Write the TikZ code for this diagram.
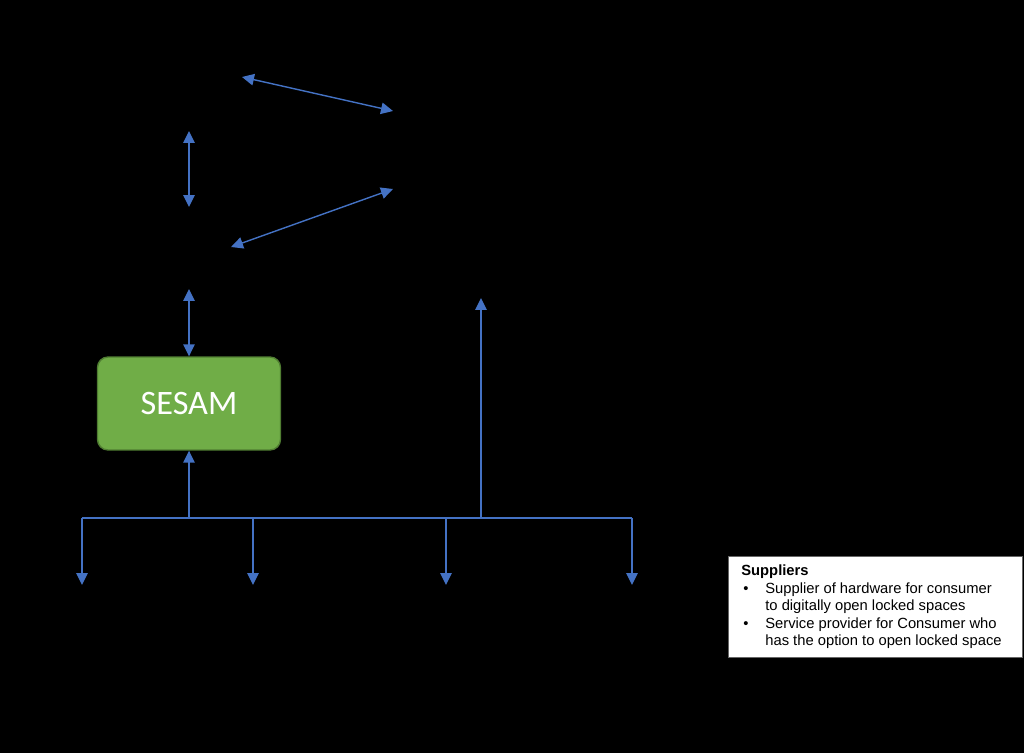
\documentclass[tikz,border=0pt]{standalone}
\usepackage{fontspec}
\setmainfont{Liberation Sans}
\newfontfamily\sesamfont{Carlito}
\usetikzlibrary{arrows.meta,positioning}
\definecolor{skBlue}{HTML}{4472C4}
\definecolor{skGreen}{HTML}{70AD47}
\definecolor{skGreenDk}{HTML}{507E32}

\begin{document}
\begin{tikzpicture}[
      x=0.02cm, y=-0.02cm,
      >={Triangle[length=2.4mm, width=2.3mm]},
      link/.style={<->, draw=skBlue, line width=0.8pt},
      feed/.style={->, draw=skBlue, line width=0.8pt},
      bus/.style={draw=skBlue, line width=0.8pt},
      sesambox/.style={rounded corners=6pt, minimum width=3.66cm, minimum height=1.86cm,
                  draw=skGreenDk, line width=0.8pt, fill=skGreen,
                  text=white, font=\sesamfont\fontsize{19.5}{22}\selectfont},
      notebox/.style={anchor=north west, minimum width=5.88cm, minimum height=2.02cm,
                  fill=white, draw=black!60, line width=0.4pt, inner sep=0pt,
                  align=left, font=\fontsize{8.4}{9.9}\selectfont},
    ]

    % ---------- fondo ----------
    \fill[black] (0,0) rectangle (1024,753);
    \useasboundingbox (0,0) rectangle (1024,753);

    % ---------- SESAM ----------
    \node[sesambox] (sesam) at (189,403.5) {SESAM};

    % ---------- puntos libres ----------
    \coordinate (topL) at (242,77);
    \coordinate (topR) at (393,111);
    \coordinate (midR) at (393,189);
    \coordinate (midL) at (231,247);
    \coordinate (upA)  at (189,131);
    \coordinate (upB)  at (189,207);
    \coordinate (inS)  at (189,289);
    \coordinate (outU) at (481,298);

    \draw[link] (topL) -- (topR);
    \draw[link] (midR) -- (midL);
    \draw[link] (upA) -- (upB);
    \draw[link] (inS) -- (sesam.north);

    % ---------- bus inferior ----------
    \coordinate (busL) at (82,518);
    \coordinate (busR) at (632,518);
    \coordinate (busS) at (189,518);
    \coordinate (busU) at (481,518);

    \draw[bus] (busL) -- (busR);
    \draw[feed] (busS) -- (sesam.south);
    \draw[feed] (busU) -- (outU);

    \foreach \xx/\nm in {82/dA, 253/dB, 446/dC, 632/dD} {
      \coordinate (\nm top) at (\xx,518);
      \coordinate (\nm) at (\xx,585);
      \draw[feed] (\nm top) -- (\nm);
    }

    % ---------- proveedores ----------
    \node[notebox] (suppliers) at (728,556)
      {\begin{minipage}[c][2.02cm][c]{5.88cm}
       \hspace*{0.26cm}{\bfseries Suppliers}\\
       \hspace*{0.3cm}\makebox[0.44cm][l]{\textbullet}Supplier of hardware for consumer\\
       \hspace*{0.74cm}to digitally open locked spaces\\
       \hspace*{0.3cm}\makebox[0.44cm][l]{\textbullet}Service provider for Consumer who\\
       \hspace*{0.74cm}has the option to open locked space
       \end{minipage}};

  \end{tikzpicture}
\end{document}
